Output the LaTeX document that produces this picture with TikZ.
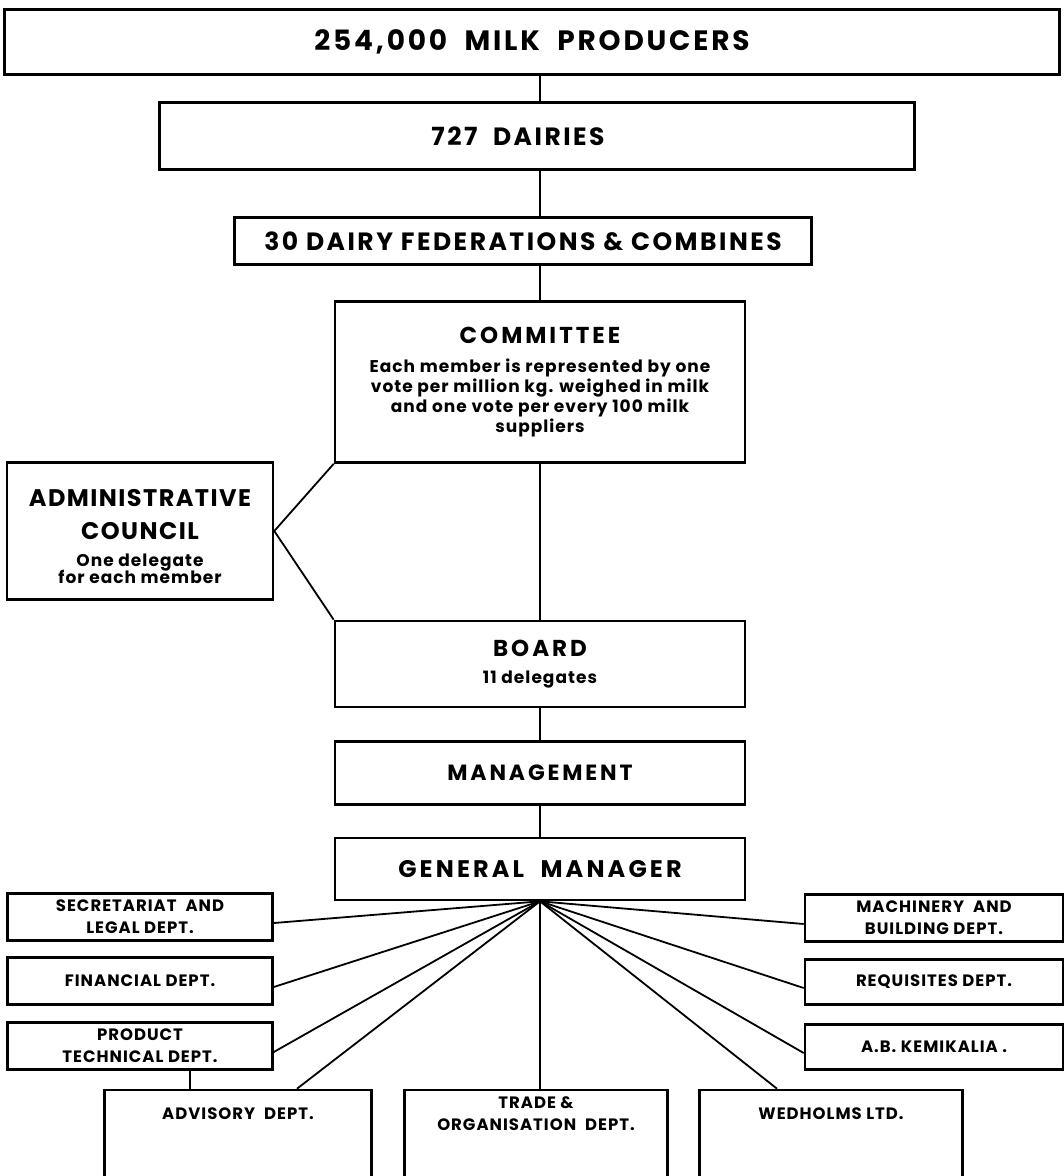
\documentclass[tikz,border=0pt]{standalone}
\usepackage{fontspec}
\setmainfont{Poppins}
\newfontfamily\handA[LetterSpace=10]{Poppins}
\newfontfamily\handB[LetterSpace=13]{Poppins}
\newfontfamily\handnote[LetterSpace=6]{Poppins}
\newcommand{\topfont}{\handA\bfseries\fontsize{28}{30}\selectfont}
\newcommand{\bigfont}{\handA\bfseries\fontsize{25}{30}\selectfont}
\newcommand{\spfont}{\handB\bfseries\fontsize{23}{28}\selectfont}
\newcommand{\midfont}{\handB\bfseries\fontsize{22}{28}\selectfont}
\newcommand{\gmfont}{\handB\bfseries\fontsize{24}{28}\selectfont}
\newcommand{\adminfont}{\handnote\bfseries\fontsize{24}{33}\selectfont}
\newcommand{\notefont}{\handnote\bfseries\fontsize{17}{20}\selectfont}
\newcommand{\deptfont}{\handnote\bfseries\fontsize{16.5}{22}\selectfont}

\begin{document}
\begin{tikzpicture}[x=1pt,y=-1pt,
  box/.style={draw=black,line width=2.6pt,rectangle,inner sep=0pt,align=center},
  dept/.style={box,font=\deptfont,minimum width=265,minimum height=47},
  low/.style={dept,minimum height=100,text depth=52pt},
  link/.style={draw=black,line width=1.8pt}]

    \useasboundingbox (0,0) rectangle (1064,1176);
    \clip (0,0) rectangle (1064,1176);

    % upper chain
    \node[box,font=\topfont,minimum width=1055,minimum height=65] (prod) at (532,42) {254,000\ \ MILK\ \ PRODUCERS};
    \node[box,font=\bigfont,minimum width=755,minimum height=67] (dair) at (537,136) {727\ \ DAIRIES\hspace*{38pt}};
    \node[box,font=\bigfont,minimum width=577,minimum height=47] (fed) at (523,241) {30 DAIRY FEDERATIONS \& COMBINES};
    \node[box,font=\notefont,minimum width=410,minimum height=161] (comm) at (540,382)
        {{\spfont COMMITTEE}\\[9pt] Each member is represented by one\\ vote per million kg. weighed in milk\\
         and one vote per every 100 milk\\ suppliers};
    \node[box,font=\adminfont,minimum width=266,minimum height=137] (admin) at (140,531)
        {\rule{0pt}{29pt}ADMINISTRATIVE\\ COUNCIL\\[-6pt] {\notefont One delegate}\\[-16pt] {\notefont for each member}};
    \node[box,font=\notefont,minimum width=410,minimum height=86] (board) at (540,664)
        {{\spfont BOARD}\\[7pt] 11 delegates};
    \node[box,font=\midfont,minimum width=410,minimum height=63] (mgmt) at (540,773) {MANAGEMENT};
    \node[box,font=\gmfont,minimum width=410,minimum height=62] (gm) at (540,869) {GENERAL\ \ MANAGER};

    % departments
    \node[dept] (sec) at (140,917) {SECRETARIAT\ \ AND\\ LEGAL DEPT.};
    \node[dept] (fin) at (140,981) {FINANCIAL DEPT.};
    \node[dept] (prodt) at (140,1046) {PRODUCT\\ TECHNICAL DEPT.};
    \node[dept,minimum width=258] (mach) at (934,918) {MACHINERY\ \ AND\\ BUILDING DEPT.};
    \node[dept,minimum width=258,minimum height=45] (req) at (934,982) {REQUISITES DEPT.};
    \node[dept,minimum width=258,minimum height=45] (abk) at (934,1047) {A.B. KEMIKALIA .};
    \node[low,minimum width=267] (adv) at (238,1140) {ADVISORY\ \ DEPT.};
    \node[low,minimum width=263] (trade) at (536,1140) {TRADE \&\\ ORGANISATION\ \ DEPT.};
    \node[low,minimum width=263] (wed) at (831,1140) {WEDHOLMS LTD.};

    % connectors
    \draw[link] (prod.south -| comm) -- (dair.north -| comm);
    \draw[link] (dair.south -| comm) -- (fed.north -| comm);
    \draw[link] (fed.south -| comm) -- (comm.north);
    \draw[link] (comm.south) -- (board.north);
    \draw[link] (comm.south west) -- (admin.east) -- (board.north west);
    \draw[link] (board.south) -- (mgmt.north);
    \draw[link] (mgmt.south) -- (gm.north);

    \coordinate (hub) at (gm.south);
    \foreach \d in {sec,fin,prodt}
        \draw[link] (hub) -- ([yshift=-6pt]\d.east);
    \foreach \d in {mach,req,abk}
        \draw[link] (hub) -- ([yshift=-6pt]\d.west);
    \draw[link] (hub) -- ([xshift=59pt]adv.north);
    \draw[link] (hub) -- (trade.north -| hub);
    \draw[link] (hub) -- ([xshift=-54pt]wed.north);

    \coordinate (ptlink) at ([xshift=50pt]prodt.south);
    \draw[link] (ptlink) -- (ptlink |- adv.north);

\end{tikzpicture}
\end{document}
